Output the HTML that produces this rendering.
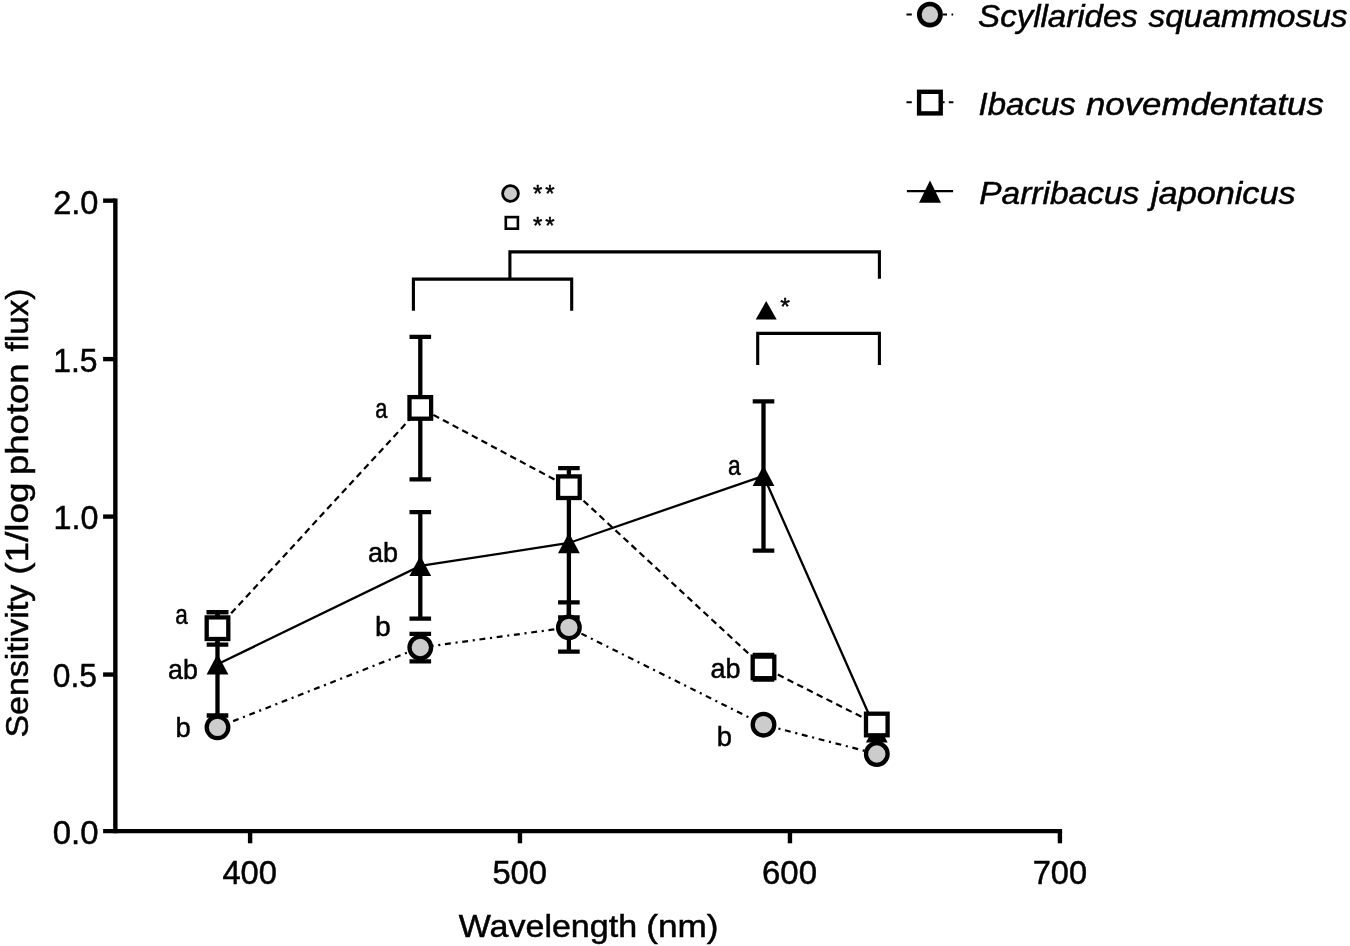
<!DOCTYPE html>
<html lang="en"><head><meta charset="utf-8"><title>Spectral sensitivity</title>
<style>html,body{margin:0;padding:0;background:#fff}svg{display:block}text{font-family:"Liberation Sans",Arial,sans-serif;fill:#000;stroke:#000;stroke-width:0.5px}.it{font-style:italic}</style>
</head><body>
<svg width="1350" height="946" viewBox="0 0 1350 946">
<rect width="1350" height="946" fill="#fff"/>
<g stroke="#000" stroke-width="4.4" fill="none">
<path d="M115.35,198.45V833.3"/>
<path d="M103.1,831.15H1062.1"/>
<path d="M103.1,200.65H115.5"/>
<path d="M103.1,359.1H115.5"/>
<path d="M103.1,516.6H115.5"/>
<path d="M103.1,674.55H115.5"/>
<path d="M250.1,831V843.3"/>
<path d="M519.95,831V843.3"/>
<path d="M789.95,831V843.3"/>
<path d="M1059.9,831V843.3"/>
</g>
<g stroke="#000" stroke-width="2.3" fill="none">
<path d="M217.5,664.3L420.3,565.9L568.9,543.0L763.5,475.8L876.8,732.3"/>
</g><g stroke="#000" stroke-width="2.2" fill="none">
<g stroke-dasharray="6.5 4.4">
<path stroke-dashoffset="1.6" d="M217.5,628.2L420.3,407.9"/>
<path stroke-dashoffset="7.0" d="M420.3,407.9L568.9,487.2"/>
<path stroke-dashoffset="1.9" d="M568.9,487.2L763.5,667.4"/>
<path stroke-dashoffset="5.8" d="M763.5,667.4L876.8,724.5"/>
</g>
<g stroke-dasharray="5.9 4.7 2.1 4.7">
<path stroke-dashoffset="0.6" d="M217.5,727.3L420.3,647.5"/>
<path stroke-dashoffset="9.9" d="M420.3,647.5L568.9,627.4"/>
<path stroke-dashoffset="3.45" d="M568.9,627.4L763.5,724.7"/>
<path stroke-dashoffset="12.6" d="M763.5,724.7L876.8,754.0"/>
</g>
</g>
<g stroke="#000" stroke-width="4.3" fill="none">
<path d="M217.5,612.1V715.5M206.7,612.1h21.6M206.7,715.5h21.6"/>
<path d="M420.3,512.2V618.7M409.5,512.2h21.6M409.5,618.7h21.6"/>
<path d="M568.9,468.2V617.5M558.1,468.2h21.6M558.1,617.5h21.6"/>
<path d="M763.5,401.3V550.6M752.7,401.3h21.6M752.7,550.6h21.6"/>
</g><g fill="#000">
<path d="M217.5,654.1L228.4,674.5H206.6Z"/>
<path d="M420.3,555.7L431.2,576.1H409.4Z"/>
<path d="M568.9,532.8L579.8,553.2H558.0Z"/>
<path d="M763.5,465.6L774.4,486.0H752.6Z"/>
<path d="M876.8,722.1L887.7,742.5H865.9Z"/>
</g>
<g stroke="#000" stroke-width="4.3" fill="none">
<path d="M217.5,612.1V644.6M206.7,612.1h21.6M206.7,644.6h21.6"/>
<path d="M420.3,336.9V479.3M409.5,336.9h21.6M409.5,479.3h21.6"/>
<path d="M763.5,655.0V679.7M752.7,655.0h21.6M752.7,679.7h21.6"/>
</g><g fill="#fff" stroke="#000" stroke-width="4.3">
<rect x="206.70" y="617.40" width="21.6" height="21.6"/>
<rect x="409.50" y="397.10" width="21.6" height="21.6"/>
<rect x="558.10" y="476.40" width="21.6" height="21.6"/>
<rect x="752.70" y="656.60" width="21.6" height="21.6"/>
<rect x="866.00" y="713.70" width="21.6" height="21.6"/>
</g>
<g stroke="#000" stroke-width="4.3" fill="none">
<path d="M420.3,633.8V661.4M409.5,633.8h21.6M409.5,661.4h21.6"/>
<path d="M568.9,602.4V651.7M558.1,602.4h21.6M558.1,651.7h21.6"/>
</g><g fill="#ccc" stroke="#000" stroke-width="4.3">
<circle cx="217.5" cy="727.3" r="10.8"/>
<circle cx="420.3" cy="647.5" r="10.8"/>
<circle cx="568.9" cy="627.4" r="10.8"/>
<circle cx="763.5" cy="724.7" r="10.8"/>
<circle cx="876.8" cy="754.0" r="10.8"/>
</g>
<g stroke="#000" stroke-width="3.1" fill="none">
<path d="M413.4,310.7V279.1H571.7V310.7"/>
<path d="M509.9,279.1V251.9H879.4V278.7"/>
<path d="M757.7,365.1V333.4H879.4V365.1"/>
</g>
<circle cx="510.5" cy="193.5" r="7.9" fill="#ccc" stroke="#000" stroke-width="2.8"/>
<rect x="505.8" y="217.1" width="12.1" height="11.6" fill="#fff" stroke="#000" stroke-width="2.6"/>
<path d="M766.2,301L776.7,319.6H755.7Z" fill="#000"/>
<text x="533.1" y="202.0" font-size="24" letter-spacing="2.7" stroke="none">**</text>
<text x="533.1" y="234.3" font-size="24" letter-spacing="2.7" stroke="none">**</text>
<text transform="translate(780.18,315.0) scale(1.0353,1)" font-size="24" stroke="none">*</text>
<g stroke="#000" stroke-width="2" fill="none">
<path stroke-dasharray="5.3 31 4.2 4.5 1.7 20" d="M906.5,14.5H955"/>
<path stroke-dasharray="5.3 31 1.8 4.2 4.6 20" d="M906.5,102.3H955"/>
<path stroke-width="2.3" d="M906.9,191.2H953.1"/>
</g>
<circle cx="929.9" cy="14.6" r="10.6" fill="#ccc" stroke="#000" stroke-width="4.7"/>
<rect x="919.1" y="91.8" width="21.6" height="21.6" fill="#fff" stroke="#000" stroke-width="4.4"/>
<path d="M930,180.4L941,202.7H919Z" fill="#000"/>
<text transform="translate(978.12,27.0) scale(1.0327,1)" font-size="32" class="it">Scyllarides</text>
<text transform="translate(1148.49,27.0) scale(1.0462,1)" font-size="32" class="it">squammosus</text>
<text transform="translate(978.56,115.0) scale(1.0309,1)" font-size="32" class="it">Ibacus</text>
<text transform="translate(1086.01,115.0) scale(1.0874,1)" font-size="32" class="it">novemdentatus</text>
<text transform="translate(979.30,203.5) scale(1.0460,1)" font-size="32" class="it">Parribacus</text>
<text transform="translate(1151.00,203.5) scale(1.0703,1)" font-size="32" class="it">japonicus</text>
<text transform="translate(53.15,213.7) scale(0.9724,1)" font-size="33.5" stroke-width="0.7">2.0</text>
<text transform="translate(53.17,371.6) scale(0.9520,1)" font-size="33.5" stroke-width="0.7">1.5</text>
<text transform="translate(53.54,529.0) scale(0.9637,1)" font-size="33.5" stroke-width="0.7">1.0</text>
<text transform="translate(52.76,686.8) scale(0.9500,1)" font-size="33.5" stroke-width="0.7">0.5</text>
<text transform="translate(52.72,844.0) scale(0.9818,1)" font-size="33.5" stroke-width="0.7">0.0</text>
<text transform="translate(222.42,883.9) scale(0.9767,1)" font-size="33.5" stroke-width="0.7">400</text>
<text transform="translate(492.38,883.9) scale(0.9774,1)" font-size="33.5" stroke-width="0.7">500</text>
<text transform="translate(762.03,883.9) scale(0.9839,1)" font-size="33.5" stroke-width="0.7">600</text>
<text transform="translate(1032.65,883.9) scale(0.9725,1)" font-size="33.5" stroke-width="0.7">700</text>
<text transform="translate(458.68,937.4) scale(1.0640,1)" font-size="32">Wavelength</text>
<text transform="translate(646.15,937.4) scale(1.1012,1)" font-size="32">(nm)</text>
<text transform="translate(27.5,737.54) rotate(-90) scale(1.0611,1)" font-size="32">Sensitivity</text>
<text transform="translate(27.5,574.86) rotate(-90) scale(1.1539,1)" font-size="32">(1/log</text>
<text transform="translate(27.5,475.03) rotate(-90) scale(1.1413,1)" font-size="32">photon</text>
<text transform="translate(27.5,351.47) rotate(-90) scale(1.0397,1)" font-size="32">flux)</text>
<text transform="translate(175.26,623.9) scale(0.7931,1)" font-size="28.5">a</text>
<text transform="translate(168.07,678.8) scale(0.9402,1)" font-size="28.5">ab</text>
<text transform="translate(175.57,736.8) scale(0.9615,1)" font-size="28.5">b</text>
<text transform="translate(375.29,418) scale(0.7655,1)" font-size="28.5">a</text>
<text transform="translate(367.97,562.4) scale(0.9470,1)" font-size="28.5">ab</text>
<text transform="translate(375.11,636) scale(0.9923,1)" font-size="28.5">b</text>
<text transform="translate(727.95,474.5) scale(0.8000,1)" font-size="28.5">a</text>
<text transform="translate(710.57,677.7) scale(0.9470,1)" font-size="28.5">ab</text>
<text transform="translate(716.87,745.8) scale(0.9615,1)" font-size="28.5">b</text>
</svg></body></html>
